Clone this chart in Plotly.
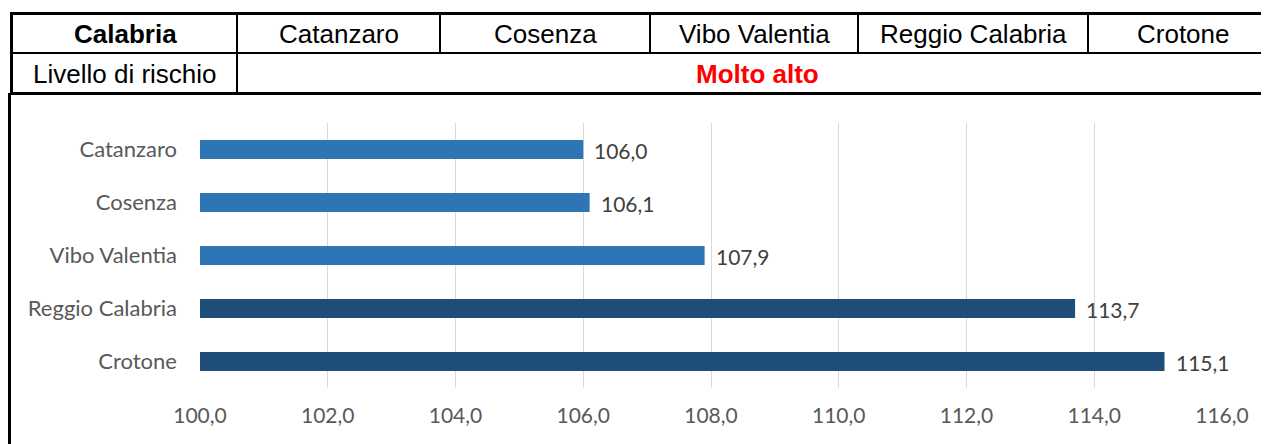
import plotly.graph_objects as go

# ---- data ----
region = "Calabria"
provinces = ["Catanzaro", "Cosenza", "Vibo Valentia", "Reggio Calabria", "Crotone"]
values = [106.0, 106.1, 107.9, 113.7, 115.1]
risk_label = "Livello di rischio"
risk_level = "Molto alto"
x_ticks = [100, 102, 104, 106, 108, 110, 112, 114, 116]

# ---- styles / layout (screen pixel coordinates) ----
bar_colors = ["#2E75B6", "#2E75B6", "#2E75B6", "#1F4E79", "#1F4E79"]
OFF = 8  # browser body margin
SW, SH = 1269, 444
W, H = SW - OFF, SH - OFF
PL, PR, PT, PB = 200, 1222, 123, 388  # plot area in screen px
ML, MR, MT, MB = PL - OFF, W - (PR - OFF), PT - OFF, H - (PB - OFF)
PW, PH = W - ML - MR, H - MT - MB
chart_font = "Lato"
table_font = "Liberation Sans, Arial"


def px(x):
    return (x - OFF - ML) / PW


def py(y):
    return (H - MB - (y - OFF)) / PH


fig = go.Figure()
fig.add_trace(go.Bar(
    y=provinces,
    x=values,
    orientation="h",
    marker=dict(color=bar_colors, line=dict(width=0)),
    width=0.36,
    hoverinfo="skip",
))

shapes = []


def line(x0, y0, x1, y1, w):
    shapes.append(dict(type="line", xref="paper", yref="paper",
                       x0=px(x0), y0=py(y0), x1=px(x1), y1=py(y1),
                       line=dict(color="black", width=w), layer="above"))


# table borders
line(10, 13.5, SW + 5, 13.5, 3)
line(11.5, 12, 11.5, 95, 3)
line(11.5, 53, SW + 5, 53, 2)
line(10, 93.5, SW + 5, 93.5, 3)
col_edges = [237, 440, 650, 858, 1088]
for cx in col_edges:
    line(cx, 13, cx, 53, 2)
line(237, 53, 237, 93, 2)
# chart frame left border
line(9.5, 93, 9.5, SH + 5, 3)

annotations = []
cells = [13] + col_edges + [1278]
headers = [region] + provinces
for i, txt in enumerate(headers):
    cx = (cells[i] + cells[i + 1]) / 2
    annotations.append(dict(
        x=px(cx), y=py(34), xref="paper", yref="paper", text=txt,
        showarrow=False, xanchor="center", yanchor="middle",
        font=dict(family=table_font, size=26, color="black",
                  weight="bold" if i == 0 else "normal")))
annotations.append(dict(
    x=px((13 + 237) / 2), y=py(74), xref="paper", yref="paper", text=risk_label,
    showarrow=False, xanchor="center", yanchor="middle",
    font=dict(family=table_font, size=26, color="black")))
annotations.append(dict(
    x=px((237 + 1278) / 2), y=py(74), xref="paper", yref="paper", text=risk_level,
    showarrow=False, xanchor="center", yanchor="middle",
    font=dict(family=table_font, size=26, color="#FF0000", weight="bold")))

# data labels, placed through the axes
for p, v in zip(provinces, values):
    annotations.append(dict(
        x=v, y=p, xref="x", yref="y",
        text=f"{v:.1f}".replace(".", ","),
        showarrow=False, xanchor="left", yanchor="middle",
        xshift=9, yshift=-1,
        font=dict(family=chart_font, size=21, color="#404040")))

fig.update_layout(
    width=W, height=H,
    margin=dict(l=ML, r=MR, t=MT, b=MB, pad=0),
    paper_bgcolor="white", plot_bgcolor="white",
    separators=",.",
    showlegend=False,
    shapes=shapes,
    annotations=annotations,
    xaxis=dict(
        range=[100, 116], tickvals=x_ticks, tickformat=".1f",
        showgrid=True, gridcolor="#D9D9D9", gridwidth=1,
        zeroline=False, showline=False, ticks="",
        tickfont=dict(family=chart_font, size=21, color="#595959"),
        ticklabelstandoff=13, fixedrange=True,
    ),
    yaxis=dict(
        categoryorder="array", categoryarray=provinces, autorange="reversed",
        showgrid=False, zeroline=False, showline=False, ticks="",
        tickfont=dict(family=chart_font, size=22, color="#595959"),
        ticklabelstandoff=22, fixedrange=True,
    ),
)

fig.write_html("out.html")
